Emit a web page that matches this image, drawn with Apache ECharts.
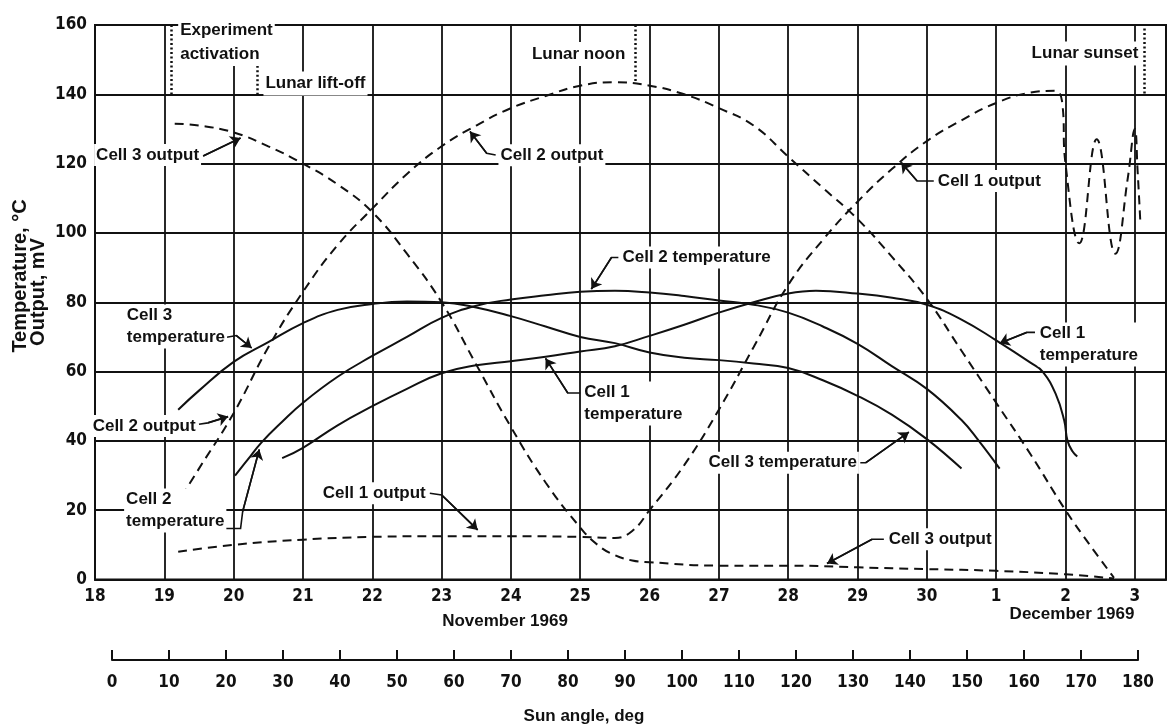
<!DOCTYPE html>
<html>
<head>
<meta charset="utf-8">
<script src="https://cdn.jsdelivr.net/npm/echarts@6/dist/echarts.min.js"></script>
<style>
  html, body { margin: 0; padding: 0; background: #fff; }
  #chart { width: 1168px; height: 727px; }
</style>
</head>
<body>
<div id="chart"></div>
<script>
// Days are counted on from November: 31 = Dec 1, 32 = Dec 2, 33 = Dec 3.
const dayTickLabels = ['18', '19', '20', '21', '22', '23', '24', '25', '26', '27', '28', '29', '30', '1', '2', '3'];
const yTicks = { min: 0, max: 160, step: 20 };
const sunAngleTicks = { min: 0, max: 180, step: 10 };

// Solar cell outputs, mV  ([day, value])
const cell1Output = [
  [19.2, 8], [20, 10], [21, 11.5], [22, 12.3], [23, 12.5], [24, 12.5], [25, 12.3], [25.5, 12],
  [25.75, 14], [26, 20], [26.5, 33], [27, 49], [27.5, 67], [28, 85], [28.5, 98], [29, 109],
  [29.5, 118.5], [30, 126.5], [30.5, 132.5], [31, 137.5], [31.5, 140.5], [31.85, 141], [31.95, 138],
  [32.0, 120], [32.2, 97], [32.45, 127], [32.72, 94], [32.9, 116], [33.0, 130], [33.04, 118], [33.08, 103]
];
const cell2Output = [
  [19.25, 24], [19.5, 32], [20, 48], [20.5, 67], [21, 83], [21.5, 96.5], [22, 107], [22.5, 117],
  [23, 125], [23.5, 131], [24, 136], [24.5, 139.5], [25, 142.5], [25.5, 143.5], [26, 142.5],
  [26.5, 140], [27, 136], [27.5, 131], [28, 122], [28.5, 113], [29, 104], [29.5, 93], [30, 81],
  [30.5, 66], [31, 51], [31.5, 36], [32, 20], [32.35, 10], [32.7, 0.5]
];
const cell3Output = [
  [19.15, 131.5], [19.5, 131], [20, 129], [20.5, 125], [21, 120], [21.5, 114], [22, 106],
  [22.5, 94], [23, 80], [23.5, 62], [24, 44], [24.5, 28], [25, 15], [25.25, 10], [25.5, 7],
  [25.75, 5.5], [26, 5], [27, 4], [28, 4], [29, 3.5], [30, 3], [31, 2.5], [32, 1.5], [32.7, 0.3]
];

// Cell temperatures, deg C  ([day, value])
const cell1Temperature = [
  [20.7, 35], [21, 38], [21.5, 44.5], [22, 50], [22.5, 55], [23, 59.5], [23.5, 61.8], [24, 63],
  [24.5, 64.3], [25, 65.8], [25.5, 67.3], [26, 70.3], [26.5, 73.5], [27, 77], [27.5, 80],
  [28, 82.5], [28.4, 83.3], [29, 82.5], [29.5, 81.3], [30, 79.3], [30.5, 75], [31, 69],
  [31.5, 62.5], [31.67, 60], [31.86, 53.5], [31.98, 46], [32.03, 40], [32.1, 37], [32.17, 35.5]
];
const cell2Temperature = [
  [20.02, 30], [20.2, 34.5], [20.4, 39.5], [20.7, 45.5], [21, 51], [21.5, 58.5], [22, 64.5],
  [22.5, 70], [23, 75.5], [23.5, 79], [24, 80.8], [24.5, 82], [25, 83], [25.5, 83.3], [26, 82.8],
  [26.5, 81.8], [27, 80.5], [27.5, 79.3], [28, 77], [28.5, 73], [29, 68], [29.5, 61.5], [30, 55],
  [30.5, 46], [30.75, 40], [31.05, 32]
];
const cell3Temperature = [
  [19.2, 49], [19.5, 54.5], [20, 62.8], [20.5, 68.5], [21, 74], [21.5, 77.8], [22, 79.5],
  [22.5, 80.2], [23, 80], [23.5, 78.5], [24, 76], [24.5, 73], [25, 70], [25.5, 68.2], [26, 65.5],
  [26.5, 64], [27, 63.3], [27.5, 62.3], [28, 61], [28.5, 57.5], [29, 53], [29.5, 47.5],
  [30, 40.5], [30.5, 32]
];

// Mission events: day and the value span of the dotted marker
const eventNames = ['Experiment\nactivation', 'Lunar lift-off', 'Lunar noon', 'Lunar sunset'];
const eventDays = [19.1, 20.34, 25.79, 33.14];
const eventSpans = [[160, 140], [156, 140], [160, 143.5], [159, 140]];

// ---- layout of the callouts (text anchor, alignment, leader path in axis units) ----
const eventText = [
  { at: [19.2, 155.1], align: 'left' },
  { at: [20.43, 143.1], align: 'left' },
  { at: [25.68, 151.6], align: 'right' },
  { at: [33.08, 151.8], align: 'right' }
];
const callouts = [
  { text: 'Cell 3 output', at: [19.53, 122.5], align: 'right',
    leader: [[19.56, 122.2], [20.1, 127.4]] },
  { text: 'Cell 2 output', at: [23.82, 122.4], align: 'left',
    leader: [[23.78, 122.5], [23.65, 123], [23.41, 129.3]] },
  { text: 'Cell 1 output', at: [30.13, 115], align: 'left',
    leader: [[30.1, 115], [29.86, 115], [29.63, 120.3]] },
  { text: 'Cell 2 temperature', at: [25.58, 92.9], align: 'left',
    leader: [[25.55, 92.9], [25.45, 92.9], [25.16, 83.8]] },
  { text: 'Cell 3\ntemperature', at: [18.43, 73], align: 'left',
    leader: [[19.9, 69.9], [20.04, 70.4], [20.26, 66.8]] },
  { text: 'Cell 2 output', at: [19.48, 44.3], align: 'right',
    leader: [[19.5, 44.8], [19.63, 45.2], [19.92, 47]] },
  { text: 'Cell 2\ntemperature', at: [18.42, 19.9], align: 'left',
    leader: [[19.87, 14.7], [20.1, 14.7], [20.13, 19.6], [20.37, 37.5]] },
  { text: 'Cell 1 output', at: [22.8, 24.9], align: 'right',
    leader: [[22.83, 24.9], [23.0, 24.4], [23.52, 14.3]] },
  { text: 'Cell 1\ntemperature', at: [25.03, 50.8], align: 'left',
    leader: [[25.0, 53.8], [24.82, 53.8], [24.5, 63.8]] },
  { text: 'Cell 3 temperature', at: [29.02, 33.7], align: 'right',
    leader: [[29.04, 33.7], [29.12, 33.7], [29.74, 42.5]] },
  { text: 'Cell 1\ntemperature', at: [31.6, 67.8], align: 'left',
    leader: [[31.56, 71.3], [31.44, 71.3], [31.05, 68.2]] },
  { text: 'Cell 3 output', at: [29.42, 11.6], align: 'left',
    leader: [[29.38, 11.6], [29.21, 11.6], [28.56, 4.6]] }
];

const INK = '#111';
const NARROW = "'Liberation Sans Narrow', 'DejaVu Sans Condensed', 'Liberation Sans', sans-serif";
const SANS = "'Liberation Sans', 'DejaVu Sans', sans-serif";
const labelFont = { color: INK, fontFamily: SANS, fontWeight: 'bold', fontSize: 17, opacity: 1 };

function curve(name, data, dashed) {
  return {
    name, type: 'line', data, smooth: 0.45, showSymbol: false, symbol: 'none', z: 3,
    lineStyle: { color: INK, width: 2, type: dashed ? [9, 6] : 'solid' }
  };
}

function textItem(value, text, align, lineHeight) {
  return {
    value,
    label: {
      show: true, position: 'inside', formatter: text, align, verticalAlign: 'middle',
      lineHeight, backgroundColor: '#fff', padding: [0, 2], ...labelFont
    }
  };
}

const chart = echarts.init(document.getElementById('chart'), null, { renderer: 'canvas' });

chart.setOption({
  animation: false,
  backgroundColor: '#fff',
  grid: [
    { left: 95, right: 2, top: 25, bottom: 147.5, show: true, borderColor: INK, borderWidth: 2, backgroundColor: 'transparent' },
    { left: 112, right: 30, top: 659, height: 1, show: false }
  ],
  xAxis: [
    {
      gridIndex: 0, type: 'value', min: 18, max: 33.45, interval: 1,
      axisLine: { show: true, lineStyle: { color: INK, width: 2 } },
      axisTick: { show: false },
      splitLine: { show: true, lineStyle: { color: INK, width: 1.8 } },
      axisLabel: {
        margin: 9, showMaxLabel: false, color: INK, fontFamily: NARROW, fontWeight: 'bold', fontSize: 17,
        formatter: v => (Number.isInteger(v) && dayTickLabels[v - 18] !== undefined) ? dayTickLabels[v - 18] : ''
      }
    },
    {
      gridIndex: 1, type: 'value', min: sunAngleTicks.min, max: sunAngleTicks.max, interval: sunAngleTicks.step,
      axisLine: { show: true, lineStyle: { color: INK, width: 2 } },
      axisTick: { show: true, inside: true, length: 10, lineStyle: { color: INK, width: 2 } },
      splitLine: { show: false },
      axisLabel: { margin: 14, color: INK, fontFamily: NARROW, fontWeight: 'bold', fontSize: 17 }
    }
  ],
  yAxis: [
    {
      gridIndex: 0, type: 'value', min: yTicks.min, max: yTicks.max, interval: yTicks.step,
      axisLine: { show: true, lineStyle: { color: INK, width: 2 } },
      axisTick: { show: false },
      splitLine: { show: true, lineStyle: { color: INK, width: 1.8 } },
      axisLabel: { margin: 8, color: INK, fontFamily: NARROW, fontWeight: 'bold', fontSize: 17 }
    },
    { gridIndex: 1, type: 'value', show: false, min: 0, max: 1 }
  ],
  series: [
    curve('Cell 1 output', cell1Output, true),
    curve('Cell 2 output', cell2Output, true),
    curve('Cell 3 output', cell3Output, true),
    curve('Cell 1 temperature', cell1Temperature, false),
    curve('Cell 2 temperature', cell2Temperature, false),
    curve('Cell 3 temperature', cell3Temperature, false),
    {
      // dotted event markers
      type: 'lines', coordinateSystem: 'cartesian2d', z: 4, silent: true,
      lineStyle: { color: INK, width: 2.5, type: [2, 2.5], opacity: 1 },
      data: eventDays.map((d, i) => ({ coords: [[d, eventSpans[i][0]], [d, eventSpans[i][1]]] }))
    },
    {
      // leader bodies
      type: 'lines', coordinateSystem: 'cartesian2d', polyline: true, z: 5, silent: true,
      lineStyle: { color: INK, width: 1.6, opacity: 1 },
      data: callouts.map(c => ({ coords: c.leader }))
    },
    {
      // final leader segment carrying the arrowhead
      type: 'lines', coordinateSystem: 'cartesian2d', z: 5, silent: true,
      symbol: ['none', 'arrow'], symbolSize: [0, 10],
      lineStyle: { color: INK, width: 1.6, opacity: 1 },
      itemStyle: { color: INK },
      data: callouts.map(c => ({ coords: c.leader.slice(-2) }))
    },
    {
      // callout and event texts
      type: 'scatter', symbolSize: 0, z: 6, silent: true,
      itemStyle: { opacity: 1, color: INK },
      data: callouts.map(c => textItem(c.at, c.text, c.align, 22))
        .concat(eventNames.map((t, i) => textItem(eventText[i].at, t, eventText[i].align, 24)))
    },
    { type: 'line', xAxisIndex: 1, yAxisIndex: 1, data: [], showSymbol: false }
  ],
  graphic: [
    { type: 'text', x: 20, y: 276, rotation: Math.PI / 2,
      style: { text: 'Temperature, \u00B0C', font: 'bold 20px ' + SANS, fill: INK, align: 'center', verticalAlign: 'middle' } },
    { type: 'text', x: 38, y: 292, rotation: Math.PI / 2,
      style: { text: 'Output, mV', font: 'bold 20px ' + SANS, fill: INK, align: 'center', verticalAlign: 'middle' } },
    { type: 'text', x: 505, y: 621,
      style: { text: 'November 1969', font: 'bold 17px ' + SANS, fill: INK, align: 'center', verticalAlign: 'middle' } },
    { type: 'text', x: 1072, y: 614,
      style: { text: 'December 1969', font: 'bold 17px ' + SANS, fill: INK, align: 'center', verticalAlign: 'middle' } },
    { type: 'text', x: 584, y: 716,
      style: { text: 'Sun angle, deg', font: 'bold 17px ' + SANS, fill: INK, align: 'center', verticalAlign: 'middle' } }
  ]
});
</script>
</body>
</html>
